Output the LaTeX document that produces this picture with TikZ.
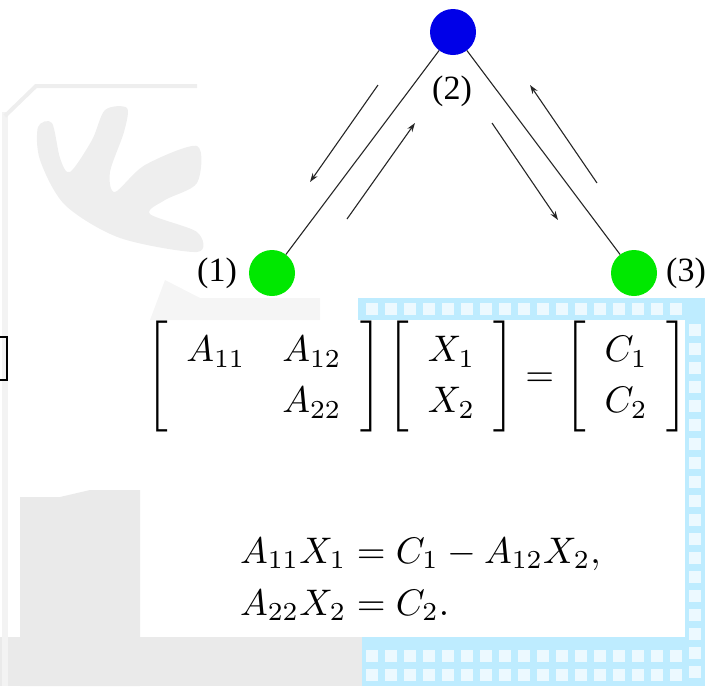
\documentclass[tikz,border=0pt]{standalone}
\usepackage{amsmath}
\usepackage{graphicx}
\usepackage[no-math]{fontspec}
\newfontfamily\labelfont{Liberation Serif}
\usetikzlibrary{arrows.meta}
\definecolor{nodeblue}{RGB}{0,0,232}
\definecolor{nodegreen}{RGB}{0,232,0}
\definecolor{gridblue}{RGB}{190,236,255}
\definecolor{wmgray}{RGB}{234,234,234}
\newcommand{\bigmath}[1]{\scalebox{3.7}{$#1$}}
\tikzset{
  vertexblue/.style={circle,fill=nodeblue,minimum size=46pt,inner sep=0pt},
  vertexgreen/.style={circle,fill=nodegreen,minimum size=46pt,inner sep=0pt},
  vlabel/.style={font=\labelfont\fontsize{34}{40}\selectfont,inner sep=0pt},
  edge/.style={line width=1.1pt,draw=black!85},
  flow/.style={line width=1.1pt,draw=black!85,-{Stealth[length=9pt,width=6pt]}},
  mathtext/.style={inner sep=0pt},
}
\begin{document}
\begin{tikzpicture}[x=1pt,y=-1pt]
\useasboundingbox (0,0) rectangle (710,686);
% background watermark (faint)
\fill[wmgray] (20,497) -- (60,497) -- (90,490) -- (140,490) -- (140,686) -- (20,686) -- cycle;
\fill[wmgray] (0,637) rectangle (362,686);
\fill[wmgray!60] (2,112) rectangle (8,686);
\draw[wmgray!80,line width=4pt] (197,86) -- (36,86) -- (5,116);
\fill[wmgray!50] (150,320) -- (165,280) -- (200,298) -- (320,298) -- (320,320) -- cycle;
\fill[wmgray!80] plot[smooth cycle,tension=0.5] coordinates {(38,127) (52,123) (60,158) (70,172) (92,140) (105,110) (127,108) (124,132) (110,172) (115,192) (145,165) (197,146) (197,183) (165,200) (150,214) (197,232) (197,252) (120,238) (65,205) (40,160)};
% light blue grid frame
\fill[gridblue] (358,298) rectangle (705,320);
\fill[gridblue] (685,298) rectangle (705,686);
\fill[gridblue] (362,637) rectangle (705,686);
\foreach \gx in {366,385,...,680} {
  \fill[white!70!gridblue] (\gx,303) rectangle +(12,12);
  \fill[white!70!gridblue] (\gx,650) rectangle +(12,12);
  \fill[white!70!gridblue] (\gx,669) rectangle +(12,12);
}
\foreach \gy in {324,343,...,680} {
  \fill[white!70!gridblue] (689,\gy) rectangle +(12,12);
}
% vertices
\node[vertexblue] (n2) at (453,32) {};
\node[vertexgreen] (n1) at (272,273) {};
\node[vertexgreen] (n3) at (634,273) {};
\node[vlabel] (l2) at (452,91) {(2)};
\node[vlabel] (l1) at (217,273) {(1)};
\node[vlabel] (l3) at (686,273) {(3)};
% edges
\draw[edge] (n1) -- (n2);
\draw[edge] (n2) -- (n3);
% flow arrows
\coordinate (a1s) at (378,85);  \coordinate (a1e) at (310,182);
\coordinate (a2s) at (347,219); \coordinate (a2e) at (415,123);
\coordinate (a3s) at (492,123); \coordinate (a3e) at (558,220);
\coordinate (a4s) at (597,183); \coordinate (a4e) at (530,85);
\draw[flow] (a1s) -- (a1e);
\draw[flow] (a2s) -- (a2e);
\draw[flow] (a3s) -- (a3e);
\draw[flow] (a4s) -- (a4e);
% cut-off bracket at left
\draw[line width=1.3pt] (-2,337) -- (7,337) -- (7,380) -- (-2,380);
% matrix equation
\node[mathtext] (meq) at (417,377) {\renewcommand{\arraystretch}{1.15}\setlength{\arraycolsep}{5pt}\bigmath{\left[\begin{array}{cc} A_{11} & A_{12}\\ & A_{22}\end{array}\right]\left[\begin{array}{c} X_1\\ X_2\end{array}\right]=\left[\begin{array}{c} C_1\\ C_2\end{array}\right]}};
% component equations
\node[mathtext,anchor=base west] (ceq1) at (240,563) {\bigmath{A_{11}X_1 = C_1 - A_{12}X_2,}};
\node[mathtext,anchor=base west] (ceq2) at (240,615) {\bigmath{A_{22}X_2 = C_2.}};
\end{tikzpicture}
\end{document}
